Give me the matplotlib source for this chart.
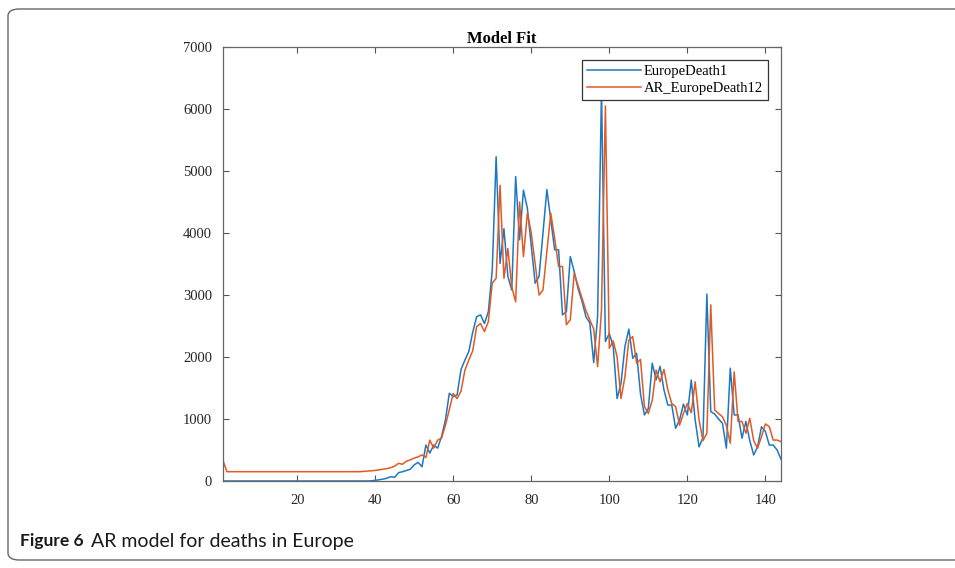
import numpy as np
import matplotlib.pyplot as plt
from matplotlib.patches import FancyBboxPatch

# time index (days)
days = list(range(1, 145))

europe_death = [0] * 38 + [
    3, 10, 20, 30, 45, 70, 60, 135, 150, 170,            # 39-48
    190, 260, 300, 230, 580, 450, 580, 530, 715, 985,    # 49-58
    1415, 1360, 1390, 1800, 1950, 2090, 2400, 2650, 2680, 2540,  # 59-68
    2730, 3400, 5230, 3510, 4070, 3300, 3080, 4910, 3890, 4690,  # 69-78
    4400, 3800, 3190, 3300, 4000, 4700, 4210, 3730, 3730, 2680,  # 79-88
    2730, 3620, 3380, 3100, 2900, 2650, 2550, 1910, 2650, 6300,  # 89-98
    2250, 2380, 2170, 1330, 1575, 2170, 2450, 1980, 2060, 1400,  # 99-108
    1065, 1170, 1900, 1630, 1850, 1470, 1225, 1225, 850, 985,    # 109-118
    1240, 1065, 1630, 985, 550, 700, 3015, 1120, 1080, 1000,     # 119-128
    930, 530, 1820, 1065, 1065, 690, 960, 650, 420, 550,         # 129-138
    875, 800, 580, 580, 500, 350]                                # 139-144

# AR model one-step fit (AR_EuropeDeath12)
ar_fit = [330] + [150] * 35 + [
    155, 160, 165, 170, 180, 190, 200, 215, 240, 285,    # 37-46
    270, 320, 340, 370, 390, 420, 380, 660, 530, 660,    # 47-56
    690, 900, 1150, 1410, 1330, 1450, 1790, 1950, 2100, 2490,    # 57-66
    2540, 2410, 2570, 3190, 3270, 4770, 3270, 3750, 3130, 2890,  # 67-76
    4500, 3620, 4320, 4000, 3500, 3000, 3080, 3700, 4320, 3910,  # 77-86
    3460, 3460, 2520, 2600, 3350, 3150, 2950, 2750, 2600, 2450,  # 87-96
    1845, 2760, 6050, 2140, 2260, 2000, 1330, 1680, 2270, 2330,  # 97-106
    1900, 1960, 1200, 1090, 1300, 1790, 1600, 1800, 1470, 1250,  # 107-116
    1200, 900, 1090, 1250, 1100, 1600, 985, 650, 770, 2840,      # 117-126
    1145, 1090, 1035, 900, 610, 1760, 960, 960, 770, 1010,       # 127-136
    650, 530, 715, 920, 875, 660, 660, 635]                      # 137-144

plt.rcParams['font.family'] = ['Liberation Serif', 'DejaVu Serif']

fig = plt.figure(figsize=(9.55, 5.68), dpi=100)

# rounded frame round the figure + caption
frame = FancyBboxPatch((8 / 955, 8 / 568), 980 / 955, 551 / 568,
                       boxstyle='round,pad=0,rounding_size=0.012',
                       transform=fig.transFigure, fill=False,
                       edgecolor='#666666', linewidth=1.0)
fig.patches.append(frame)

ax = fig.add_axes([223 / 955, 87 / 568, 558 / 955, 434 / 568])
ax.plot(days, europe_death, color='#1f77c4', lw=1.1, label='EuropeDeath1')
ax.plot(days, ar_fit, color='#e05a24', lw=1.1, label='AR_EuropeDeath12')

ax.set_xlim(1, 144)
ax.set_ylim(0, 7000)
ax.set_xticks(range(20, 141, 20))
ax.set_yticks(range(0, 7001, 1000))
ax.tick_params(direction='in', top=True, right=True, length=4,
               color='#555555', labelsize=10.5, labelcolor='#262626')
ax.tick_params(axis='x', pad=9)
ax.tick_params(axis='y', pad=8)
for s in ax.spines.values():
    s.set_color('#666666')
    s.set_linewidth(0.9)

ax.set_title('Model Fit', fontsize=12, fontweight='bold', pad=3)

leg = ax.legend(loc='upper right', bbox_to_anchor=(0.977, 0.97),
                fontsize=10.5, fancybox=False, framealpha=1,
                edgecolor='#333333', handlelength=3.7, borderpad=0.35,
                labelspacing=0.25, handletextpad=0.2, borderaxespad=0)
leg.get_frame().set_linewidth(0.9)

cap = ['Lato', 'DejaVu Sans']
fig.text(20 / 955, 1 - 541 / 568, 'Figure 6', family=cap, fontsize=12.5,
         fontweight='bold', va='center', ha='left', color='#1a1a1a')
fig.text(91 / 955, 1 - 541 / 568, 'AR model for deaths in Europe', family=cap,
         fontsize=14, va='center', ha='left', color='#1a1a1a')

fig.savefig('out.png', dpi=100)
